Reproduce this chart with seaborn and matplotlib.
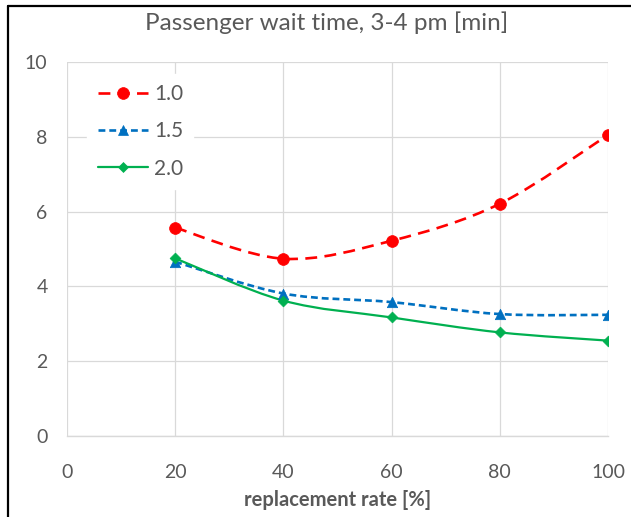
import numpy as np
import pandas as pd
import seaborn as sns
import matplotlib.pyplot as plt
from matplotlib.path import Path
from matplotlib.patches import PathPatch
from matplotlib.lines import Line2D

# ---- data ----
rate = [20, 40, 60, 80, 100]
wait_10 = [5.57, 4.74, 5.22, 6.21, 8.05]
wait_15 = [4.66, 3.81, 3.58, 3.26, 3.24]
wait_20 = [4.75, 3.62, 3.17, 2.77, 2.55]
series_names = ["1.0", "1.5", "2.0"]
x_ticks = [0, 20, 40, 60, 80, 100]
y_ticks = [0, 2, 4, 6, 8, 10]

df = pd.DataFrame({
    "rate": rate * 3,
    "wait": wait_10 + wait_15 + wait_20,
    "series": [s for s in series_names for _ in rate],
})

colors = {"1.0": "#FF0000", "1.5": "#0070C0", "2.0": "#00B050"}
markers = {"1.0": "o", "1.5": "^", "2.0": "D"}
msizes = {"1.0": 8.5, "1.5": 7.5, "2.0": 5.5}
dashes = {"1.0": (4.5, 2.8), "1.5": (2.6, 1.5), "2.0": None}
lws = {"1.0": 1.9, "1.5": 1.9, "2.0": 1.6}

sns.set_theme(style="white")
plt.rcParams['font.family'] = ['Lato', 'DejaVu Sans']
text_col = "#595959"
grid_col = "#D9D9D9"

fig = plt.figure(figsize=(6.31, 5.17), dpi=100)
ax = fig.add_axes([67 / 631, 1 - 436 / 517, (608 - 67) / 631, (436 - 62) / 517])


def smooth_path(xs, ys):
    pts = np.column_stack([xs, ys]).astype(float)
    n = len(pts)
    verts = [pts[0]]
    codes = [Path.MOVETO]
    for i in range(n - 1):
        p0 = pts[i - 1] if i > 0 else pts[i]
        p1 = pts[i]
        p2 = pts[i + 1]
        p3 = pts[i + 2] if i + 2 < n else pts[i + 1]
        c1 = p1 + (p2 - p0) / 6.0
        c2 = p2 - (p3 - p1) / 6.0
        verts += [c1, c2, p2]
        codes += [Path.CURVE4] * 3
    return Path(verts, codes)


for name in series_names:
    sub = df[df.series == name]
    path = smooth_path(sub.rate.values, sub.wait.values)
    patch = PathPatch(path, facecolor="none", edgecolor=colors[name],
                      lw=lws[name], transform=ax.transData, zorder=3,
                      capstyle="butt")
    if dashes[name] is not None:
        patch.set_linestyle((0, dashes[name]))
    ax.add_patch(patch)
    sns.scatterplot(x=sub.rate, y=sub.wait, ax=ax, marker=markers[name],
                    s=msizes[name] ** 2, color=colors[name], edgecolor=colors[name],
                    linewidth=0.5, zorder=4, legend=False)

ax.set_xlim(0, 100)
ax.set_ylim(0, 10)
ax.set_xticks(x_ticks)
ax.set_yticks(y_ticks)
ax.set_xticklabels([str(t) for t in x_ticks])
ax.set_yticklabels([str(t) for t in y_ticks])
ax.grid(True, color=grid_col, lw=0.9)
ax.set_axisbelow(True)
for s in ["top", "right", "left"]:
    ax.spines[s].set_visible(False)
ax.spines["bottom"].set_color(grid_col)
ax.spines["bottom"].set_linewidth(1.0)
ax.tick_params(axis="both", length=0, labelsize=14, colors=text_col)
ax.tick_params(axis="y", pad=14)
ax.tick_params(axis="x", pad=20)
ax.set_xlabel("replacement rate [%]", fontsize=14.5, fontweight="bold", color=text_col, labelpad=7)
ax.set_ylabel("")

handles = []
for name in series_names:
    h = Line2D([], [], color=colors[name], lw=lws[name], marker=markers[name],
               markersize=msizes[name], markeredgewidth=0.5)
    if dashes[name] is not None:
        h.set_dashes(dashes[name])
    handles.append(h)
leg = ax.legend(handles, series_names, loc="upper left", bbox_to_anchor=(0.018, 0.997),
                frameon=True, framealpha=1, edgecolor="white", fancybox=False,
                fontsize=15, handlelength=2.4, labelspacing=0.83, borderpad=0.5,
                handletextpad=0.3)
for t in leg.get_texts():
    t.set_color(text_col)

fig.text(327 / 631, 1 - 23 / 517, "Passenger wait time, 3-4 pm [min]", ha="center", va="center",
         fontsize=17.5, color=text_col)

# outer frame lines (top and left)
fig.add_artist(Line2D([8 / 631, 1], [1 - 6 / 517, 1 - 6 / 517], color="black", lw=1.6,
                      transform=fig.transFigure))
fig.add_artist(Line2D([8 / 631, 8 / 631], [0, 1 - 6 / 517], color="black", lw=1.6,
                      transform=fig.transFigure))

fig.savefig("out.png", dpi=100, facecolor="white")
